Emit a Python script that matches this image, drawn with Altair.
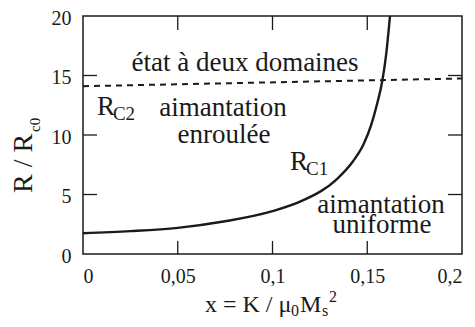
import altair as alt
import pandas as pd

# R_C1 curve (solid)
rc1_x = [0, 0.025, 0.05, 0.075, 0.1, 0.116, 0.134, 0.1425, 0.148, 0.152, 0.155, 0.158, 0.160, 0.162]
rc1_y = [1.74, 1.92, 2.2, 2.75, 3.6, 4.5, 6.3, 7.8, 9.2, 10.8, 12.5, 14.6, 16.8, 20.0]
# R_C2 line (dashed)
rc2_x = [0, 0.2]
rc2_y = [14.1, 14.75]

x_labels = [0, 0.05, 0.1, 0.15, 0.2]
y_labels = [0, 5, 10, 15, 20]
x_ticks = [0.05, 0.1, 0.15]
y_ticks = [5, 10, 15]

# region annotations
ann_text = ["état à deux domaines", "aimantation", "enroulée", "aimantation", "uniforme"]
ann_x = [0.0855, 0.0739, 0.0744, 0.1573, 0.1578]
ann_y = [15.38, 11.6, 9.33, 3.45, 1.76]
# curve names R_C2, R_C1
name_main = ["R", "R"]
name_sub = ["C2", "C1"]
name_x = [0.0074, 0.1092]
name_y = [11.68, 7.06]
sub_x = [0.0158, 0.1177]
sub_y = [11.26, 6.64]

W, H = 379, 238
FONT = "Liberation Serif"
INK = "#1a1a1a"

xs = alt.Scale(domain=[0, 0.2], nice=False, zero=False)
ys = alt.Scale(domain=[0, 20], nice=False, zero=False)

xaxis = alt.Axis(values=x_labels, title=None, labelExpr="replace(toString(datum.value), '.', ',')",
                 labelFlush=True, labelOverlap=False, labelPadding=12,
                 domain=False, ticks=False, grid=False, labelFont=FONT, labelFontSize=20, labelColor=INK)
yaxis = alt.Axis(values=y_labels, title=None, labelFlush=False, labelOverlap=False, labelPadding=12,
                 labelOffset=2,
                 domain=False, ticks=False, grid=False, labelFont=FONT, labelFontSize=20, labelColor=INK)

df1 = pd.DataFrame({"x": rc1_x, "y": rc1_y})
df2 = pd.DataFrame({"x": rc2_x, "y": rc2_y})

c1 = alt.Chart(df1).mark_line(color=INK, strokeWidth=2.4, interpolate="monotone", clip=True).encode(
    x=alt.X("x:Q", scale=xs, axis=xaxis), y=alt.Y("y:Q", scale=ys, axis=yaxis))
c2 = alt.Chart(df2).mark_line(color=INK, strokeWidth=2, strokeDash=[6, 5], clip=True).encode(
    x=alt.X("x:Q", scale=xs), y=alt.Y("y:Q", scale=ys))

# inward ticks
dxt = pd.DataFrame({"t": x_ticks})
dyt = pd.DataFrame({"t": y_ticks})
tb = alt.Chart(dxt).mark_rule(color=INK, strokeWidth=1.3).encode(
    x=alt.X("t:Q", scale=xs), y=alt.value(H), y2=alt.value(H - 13))
tt = alt.Chart(dxt).mark_rule(color=INK, strokeWidth=1.3).encode(
    x=alt.X("t:Q", scale=xs), y=alt.value(0), y2=alt.value(14))
tl = alt.Chart(dyt).mark_rule(color=INK, strokeWidth=1.3).encode(
    y=alt.Y("t:Q", scale=ys), x=alt.value(0), x2=alt.value(14))
tr = alt.Chart(dyt).mark_rule(color=INK, strokeWidth=1.3).encode(
    y=alt.Y("t:Q", scale=ys), x=alt.value(W - 14), x2=alt.value(W))

dann = pd.DataFrame({"x": ann_x, "y": ann_y, "t": ann_text})
ann = alt.Chart(dann).mark_text(font=FONT, fontSize=27, color=INK, align="center", baseline="alphabetic").encode(
    x=alt.X("x:Q", scale=xs), y=alt.Y("y:Q", scale=ys), text="t:N")
dn = pd.DataFrame({"x": name_x, "y": name_y, "t": name_main})
nm = alt.Chart(dn).mark_text(font=FONT, fontSize=27, color=INK, align="left", baseline="alphabetic").encode(
    x=alt.X("x:Q", scale=xs), y=alt.Y("y:Q", scale=ys), text="t:N")
ds = pd.DataFrame({"x": sub_x, "y": sub_y, "t": name_sub})
sb = alt.Chart(ds).mark_text(font=FONT, fontSize=19, color=INK, align="left", baseline="alphabetic").encode(
    x=alt.X("x:Q", scale=xs), y=alt.Y("y:Q", scale=ys), text="t:N")

# axis titles (composed for sub/superscripts)
def txt(s, x, y, size, angle=0):
    return alt.Chart(pd.DataFrame({"t": [s]})).mark_text(
        font=FONT, fontSize=size, color=INK, align="left", baseline="alphabetic", angle=angle
    ).encode(x=alt.value(x), y=alt.value(y), text="t:N")

ytitle = [txt("R / R", -51, 177, 28, 270), txt("c0", -43, 116, 15, 270)]
xtitle = [
    txt("x = K / μ", 122, 296, 24),
    txt("0", 208, 300, 16),
    txt("M", 217, 296, 24),
    txt("s", 239, 300, 16),
    txt("2", 246, 286, 16),
]

chart = alt.layer(c1, c2, tb, tt, tl, tr, ann, nm, sb, *ytitle, *xtitle).properties(
    width=W, height=H,
    autosize=alt.AutoSizeParams(type="none"),
    padding={"left": 75, "top": 8, "right": 5, "bottom": 65},
).configure_view(stroke=INK, strokeWidth=1.5)

chart.save("out.html", embed_options={"renderer": "svg", "actions": False})
